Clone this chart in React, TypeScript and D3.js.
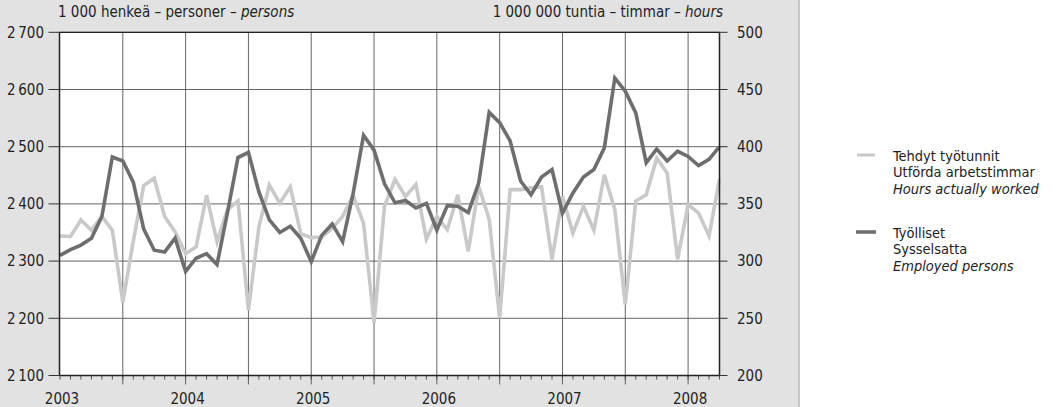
import React from "react";
import * as d3 from "d3";

// Monthly data, Jan 2003 – Apr 2008
const yearLabels = ["2003", "2004", "2005", "2006", "2007", "2008"];

// Työlliset – Employed persons (1 000 persons), left axis
const employed = [
  2310, 2320, 2328, 2340, 2378, 2482, 2475, 2438, 2356, 2319, 2316, 2340,
  2282, 2305, 2313, 2294, 2385, 2481, 2490, 2421, 2372, 2350, 2361, 2340,
  2299, 2345, 2365, 2334, 2418, 2520, 2494, 2435, 2402, 2406, 2393, 2401,
  2354, 2397, 2396, 2385, 2437, 2560, 2542, 2510, 2440, 2416, 2447, 2460,
  2384, 2419, 2447, 2460, 2498, 2620, 2597, 2559, 2472, 2496, 2475, 2492,
  2483, 2467, 2478, 2500,
];

// Tehdyt työtunnit – Hours actually worked (1 000 000 hours), right axis
const hours = [
  322, 321.5, 336, 327, 339, 327, 264, 317.5, 366, 372.5, 339, 325.5,
  306.5, 312.5, 357.5, 317, 345, 352.5, 257, 330, 366.5, 350.5, 365, 324,
  320.5, 321, 328.5, 339, 357.5, 333, 246, 348, 371.5, 356.5, 367, 319,
  339, 327.5, 358, 308.5, 365.5, 336.5, 250, 362.5, 362.5, 364, 365, 301.5,
  356.5, 324.5, 348, 327, 375.5, 345, 262, 352.5, 358, 390, 377, 301.5,
  349.5, 342, 322, 371.5,
];

const leftTicks = [2100, 2200, 2300, 2400, 2500, 2600, 2700];
const rightTicks = [200, 250, 300, 350, 400, 450, 500];

const legendHours = ["Tehdyt työtunnit", "Utförda arbetstimmar", "Hours actually worked"];
const legendEmployed = ["Työlliset", "Sysselsatta", "Employed persons"];

const FONT = "'Liberation Sans Narrow', 'DejaVu Sans Condensed', 'Arial Narrow', sans-serif";
const FS = 15;
const LFS = 14.5;

export default function App() {
  const W = 1057, H = 407;
  const L = 59.5, R = 719.5, T = 32.3, B = 375.5;
  const n = employed.length;
  const x = d3.scaleLinear().domain([0, n - 1]).range([60, 719.5]);
  const yL = d3.scaleLinear().domain([2100, 2700]).range([B, T]);
  const yR = d3.scaleLinear().domain([200, 500]).range([B, T]);

  const lineE = d3.line<number>().x((_, i) => x(i)).y((d) => yL(d));
  const lineH = d3.line<number>().x((_, i) => x(i)).y((d) => yR(d));

  const fmt = (v: number) => {
    const s = String(v);
    return s.length > 3 ? s.slice(0, s.length - 3) + "\u2009" + s.slice(-3) : s;
  };

  const months = d3.range(0, n);
  const halfYears = months.filter((m) => m % 6 === 0 && m > 0);
  const lightColor = "#c9c9c9";
  const darkColor = "#6e6e6e";

  return (
    <svg width={W} height={H} style={{ position: "absolute", left: 0, top: 0, fontFamily: FONT }}>
      <rect x={0} y={0} width={799} height={H} fill="#e2e2e2" />
      <rect x={799} y={0} width={W - 799} height={H} fill="#ffffff" />
      <line x1={799} x2={799} y1={0} y2={H} stroke="#9a9a9a" strokeWidth={1} />

      {/* plot area */}
      <rect x={L} y={T} width={R - L} height={B - T} fill="#ffffff" />

      {/* horizontal grid */}
      {leftTicks.map((t) => (
        <line key={"h" + t} x1={L} x2={R} y1={yL(t)} y2={yL(t)} stroke="#555" strokeWidth={0.9} />
      ))}
      {/* vertical grid at half years */}
      {halfYears.map((m) => (
        <line key={"v" + m} x1={x(m)} x2={x(m)} y1={T} y2={B + 9} stroke="#555" strokeWidth={0.9} />
      ))}
      {/* month ticks */}
      {months.map((m) => (
        <line key={"mt" + m} x1={x(m)} x2={x(m)} y1={B} y2={B + 4} stroke="#444" strokeWidth={0.9} />
      ))}

      {/* lines */}
      <path d={lineH(hours) || ""} fill="none" stroke={lightColor} strokeWidth={3.6} strokeLinejoin="miter" />
      <path d={lineE(employed) || ""} fill="none" stroke={darkColor} strokeWidth={3.6} strokeLinejoin="miter" />

      {/* frame */}
      <line x1={L} x2={L} y1={T} y2={B} stroke="#222" strokeWidth={1.5} />
      <line x1={R} x2={R} y1={T} y2={B} stroke="#222" strokeWidth={1.5} />
      <line x1={L} x2={R} y1={T} y2={T} stroke="#222" strokeWidth={1.2} />
      <line x1={L} x2={R} y1={B} y2={B} stroke="#222" strokeWidth={1.5} />

      {/* left axis */}
      {leftTicks.map((t) => (
        <g key={"lt" + t}>
          <line x1={L - 11} x2={L} y1={yL(t)} y2={yL(t)} stroke="#333" strokeWidth={1} />
          <text x={44} y={yL(t)} dy="0.35em" textAnchor="end" fontSize={FS} fill="#222">
            {fmt(t)}
          </text>
        </g>
      ))}
      {/* right axis */}
      {rightTicks.map((t) => (
        <g key={"rt" + t}>
          <line x1={R} x2={R + 8} y1={yR(t)} y2={yR(t)} stroke="#333" strokeWidth={1} />
          <text x={737} y={yR(t)} dy="0.35em" textAnchor="start" fontSize={FS} fill="#222">
            {t}
          </text>
        </g>
      ))}
      {/* year labels */}
      {yearLabels.map((yl, k) => (
        <text key={yl} x={x(k * 12) + 2} y={404} textAnchor="middle" fontSize={FS} fill="#222">
          {yl}
        </text>
      ))}

      {/* axis titles */}
      <text x={58} y={17} fontSize={FS} fill="#222">
        1 000 henkeä – personer – <tspan fontStyle="italic">persons</tspan>
      </text>
      <text x={723} y={17} fontSize={FS} fill="#222" textAnchor="end">
        1 000 000 tuntia – timmar – <tspan fontStyle="italic">hours</tspan>
      </text>

      {/* legend */}
      <line x1={857} x2={875} y1={155} y2={155} stroke={lightColor} strokeWidth={3} />
      {legendHours.map((s, k) => (
        <text key={s} x={893} y={160.5 + k * 16.8} fontSize={LFS} fill="#222" fontStyle={k === 2 ? "italic" : "normal"}>
          {s}
        </text>
      ))}
      <line x1={856} x2={876} y1={232} y2={232} stroke={darkColor} strokeWidth={3.6} />
      {legendEmployed.map((s, k) => (
        <text key={s} x={893} y={237.5 + k * 16.8} fontSize={LFS} fill="#222" fontStyle={k === 2 ? "italic" : "normal"}>
          {s}
        </text>
      ))}
    </svg>
  );
}
